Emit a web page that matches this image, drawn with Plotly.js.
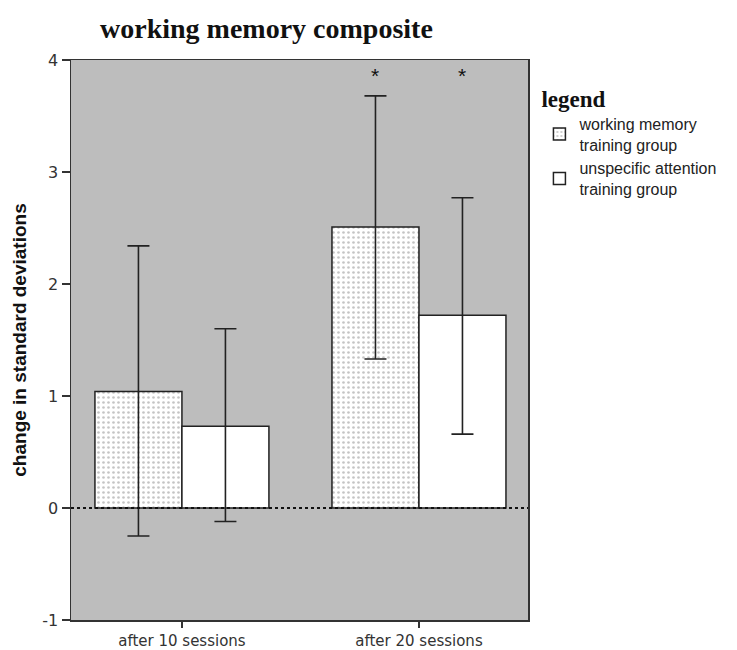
<!DOCTYPE html>
<html>
<head>
<meta charset="utf-8">
<script src="https://cdn.plot.ly/plotly-3.0.1.min.js"></script>
<style>html,body{margin:0;padding:0;background:#fff;}#chart{width:737px;height:650px;}</style>
</head>
<body>
<div id="chart"></div>
<script>
const categories = ["after 10 sessions", "after 20 sessions"];
const seriesNames = ["working memory<br>training group", "unspecific attention<br>training group"];
const wmMean = [1.04, 2.51];
const wmUpper = [2.34, 3.68];
const wmLower = [-0.25, 1.33];
const uaMean = [0.73, 1.72];
const uaUpper = [1.60, 2.77];
const uaLower = [-0.12, 0.66];
const starY = [3.86, 3.86];
const yTicks = [-1, 0, 1, 2, 3, 4];

const errStyle = {type: 'data', symmetric: false, color: '#222', thickness: 1.6, width: 11};
const traces = [
  {
    type: 'bar', name: seriesNames[0], x: categories, y: wmMean,
    marker: {color: 'white', line: {color: '#222', width: 1.5},
      pattern: {shape: '.', bgcolor: 'white', fgcolor: '#8a8a8a', size: 5, solidity: 0.22, fillmode: 'overlay'}},
    error_y: Object.assign({}, errStyle, {
      array: wmUpper.map((u, i) => u - wmMean[i]),
      arrayminus: wmMean.map((m, i) => m - wmLower[i])})
  },
  {
    type: 'bar', name: seriesNames[1], x: categories, y: uaMean,
    marker: {color: 'white', line: {color: '#222', width: 1.5}},
    error_y: Object.assign({}, errStyle, {
      array: uaUpper.map((u, i) => u - uaMean[i]),
      arrayminus: uaMean.map((m, i) => m - uaLower[i])})
  }
];

const layout = {
  width: 737, height: 650,
  margin: {l: 71, r: 209, t: 60, b: 30},
  paper_bgcolor: 'white', plot_bgcolor: '#bdbdbd',
  barmode: 'group', bargap: 0.266, bargroupgap: 0,
  title: {text: '<b>working memory composite</b>', x: 100/737, xanchor: 'left', y: 1 - 28/650, yanchor: 'middle',
    font: {family: 'Liberation Serif, serif', size: 28, color: '#111'}},
  xaxis: {type: 'category', range: [-0.468, 1.46], showline: true, mirror: true, linecolor: '#333', linewidth: 1.5,
    ticks: 'outside', ticklen: 6, tickcolor: '#333', tickwidth: 1.5, showgrid: false, automargin: false,
    tickfont: {family: 'DejaVu Sans, sans-serif', size: 15, color: '#333'}},
  yaxis: {range: [-1, 4], tickvals: yTicks, ticktext: yTicks.map(String), showline: true, mirror: true,
    linecolor: '#333', linewidth: 1.5, ticks: 'outside', ticklen: 8, tickcolor: '#333', tickwidth: 1.5,
    showgrid: false, zeroline: false, automargin: false,
    tickfont: {family: 'DejaVu Sans, sans-serif', size: 16, color: '#333'},
    title: {text: '<b>change in standard deviations</b>', standoff: 10,
      font: {family: 'Liberation Sans, Arial, sans-serif', size: 19, color: '#111'}}},
  legend: {x: 1.025, xanchor: 'left', y: 0.97, yanchor: 'top', bgcolor: 'rgba(0,0,0,0)',
    title: {text: '<b>legend</b>', font: {family: 'Liberation Serif, serif', size: 23, color: '#111'}},
    font: {family: 'Liberation Sans, Arial, sans-serif', size: 16, color: '#222'},
    tracegroupgap: 2, itemwidth: 30},
  shapes: [{type: 'line', xref: 'paper', x0: 0, x1: 1, yref: 'y', y0: 0, y1: 0,
    line: {color: '#111', width: 2, dash: 'dot'}, layer: 'above'}],
  annotations: [
    {x: categories[1], y: starY[0], xref: 'x', yref: 'y', text: '*', showarrow: false, xshift: -43.5,
      font: {family: 'Liberation Sans, Arial, sans-serif', size: 21, color: '#111'}},
    {x: categories[1], y: starY[1], xref: 'x', yref: 'y', text: '*', showarrow: false, xshift: 43.5,
      font: {family: 'Liberation Sans, Arial, sans-serif', size: 21, color: '#111'}}
  ]
};

Plotly.newPlot('chart', traces, layout, {displayModeBar: false, staticPlot: true});
</script>
</body>
</html>
